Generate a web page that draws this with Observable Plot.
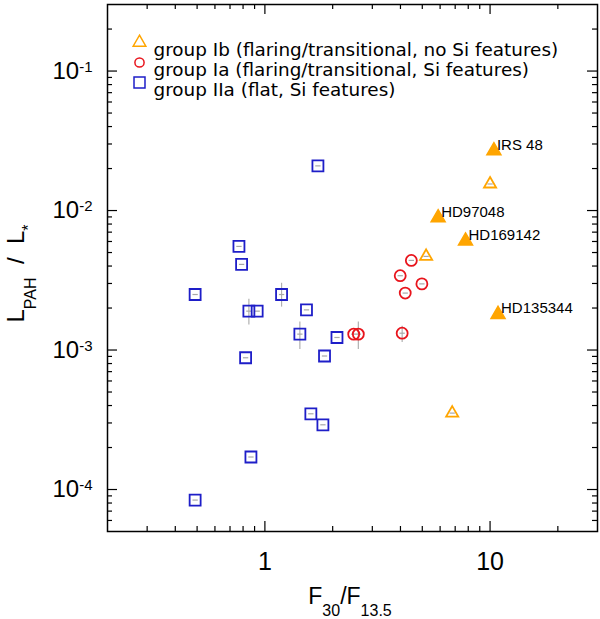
<!DOCTYPE html>
<html>
<head>
<meta charset="utf-8">
<script src="https://cdn.jsdelivr.net/npm/d3@7"></script>
<script src="https://cdn.jsdelivr.net/npm/@observablehq/plot@0.6"></script>
<style>
  body { margin: 0; background: #fff; }
</style>
</head>
<body>
<div id="chart"></div>
<script>
// group Ib, named sources (filled triangles)
const ibNames = ["IRS 48", "HD97048", "HD169142", "HD135344"]
const ibNamedX = [10.4, 5.88, 7.78, 10.85]
const ibNamedY = [0.0268, 0.00887, 0.00604, 0.0018]

// group Ib, other sources (open triangles)
const ibX = [10.0, 5.2, 6.79]
const ibY = [0.0155, 0.00469, 0.000353]

// group Ia (open circles)
const iaX = [2.48, 2.60, 4.47, 3.99, 4.98, 4.2, 4.07]
const iaY = [0.0013, 0.0013, 0.00439, 0.00341, 0.00298, 0.00256, 0.00132]

// group IIa (open squares)
const iiaX = [1.72, 0.767, 0.788, 0.49, 1.186, 0.849, 0.924, 1.53, 1.43, 2.09, 0.821, 1.84, 1.60, 1.81, 0.867, 0.49]
const iiaY = [0.0209, 0.00553, 0.00411, 0.0025, 0.0025, 0.0019, 0.0019, 0.00194, 0.0013, 0.00123, 0.00088, 0.000906, 0.000349, 0.000291, 0.000171, 0.000084]

// visible vertical error bars
const errX = [1.186, 0.849, 1.43, 2.60, 4.07]
const errLo = [0.00203, 0.00151, 0.00101, 0.00101, 0.00113]
const errHi = [0.00301, 0.00231, 0.00159, 0.00159, 0.00148]

const legendLabels = [
  "group Ib (flaring/transitional, no Si features)",
  "group Ia (flaring/transitional, Si features)",
  "group IIa (flat, Si features)"
]

const xMajor = [1, 10]
const xMinor = [0.3, 0.4, 0.5, 0.6, 0.7, 0.8, 0.9, 2, 3, 4, 5, 6, 7, 8, 9, 20]
const yMajor = [1e-4, 1e-3, 1e-2, 1e-1]
const yMinor = [6e-5, 7e-5, 8e-5, 9e-5,
  2e-4, 3e-4, 4e-4, 5e-4, 6e-4, 7e-4, 8e-4, 9e-4,
  2e-3, 3e-3, 4e-3, 5e-3, 6e-3, 7e-3, 8e-3, 9e-3,
  2e-2, 3e-2, 4e-2, 5e-2, 6e-2, 7e-2, 8e-2, 9e-2,
  2e-1]

const orange = "#FFA500", red = "#E8141C", blue = "#1E1EC8"
const font = "Liberation Sans, Arial, sans-serif"
const legendFont = "DejaVu Sans, sans-serif"

const W = 600, H = 619
const mTop = 4, mRight = 3, mBottom = 88, mLeft = 107
const frameW = W - mLeft - mRight, frameH = H - mTop - mBottom

const pts = (xs, ys) => xs.map((x, i) => ({x, y: ys[i]}))
const named = ibNames.map((name, i) => ({name, x: ibNamedX[i], y: ibNamedY[i]}))
const ib = pts(ibX, ibY)
const ia = pts(iaX, iaY)
const iia = pts(iiaX, iiaY)
const errs = errX.map((x, i) => ({x, lo: errLo[i], hi: errHi[i]}))
const all = [...named, ...ib, ...ia, ...iia]

// little horizontal dash drawn inside each marker (tiny x error)
const dash = {
  draw(ctx, size) {
    const w = Math.sqrt(size) / 2
    ctx.moveTo(-w, 0)
    ctx.lineTo(w, 0)
  }
}

const tickStyle = {stroke: "black", strokeWidth: 1.2}
const xTicks = (vals, len) => [
  Plot.tickX(vals, {x: d => d, insetTop: frameH - len, ...tickStyle}),
  Plot.tickX(vals, {x: d => d, insetBottom: frameH - len, ...tickStyle})
]
const yTicks = (vals, len) => [
  Plot.tickY(vals, {y: d => d, insetRight: frameW - len, ...tickStyle}),
  Plot.tickY(vals, {y: d => d, insetLeft: frameW - len, ...tickStyle})
]

const legendSym = [
  {symbol: "triangle", stroke: orange, r: 4.7},
  {symbol: "circle", stroke: red, r: 4.6},
  {symbol: "square", stroke: blue, r: 6.2}
]
const legendMarks = legendLabels.flatMap((label, i) => [
  Plot.dot([label], {frameAnchor: "top-left", dx: 32, dy: 38 + i * 20,
    symbol: legendSym[i].symbol, r: legendSym[i].r, stroke: legendSym[i].stroke, strokeWidth: 1.5}),
  Plot.text([label], {frameAnchor: "top-left", dx: 46, dy: 38 + i * 20, text: d => d,
    textAnchor: "start", fontSize: 18.4, fontFamily: legendFont, fill: "black"})
])

let chart = Plot.plot({
  width: W,
  height: H,
  marginTop: mTop,
  marginRight: mRight,
  marginBottom: mBottom,
  marginLeft: mLeft,
  x: {type: "log", domain: [0.2, 30], label: null},
  y: {type: "log", domain: [5e-5, 0.3], label: null},
  style: {background: "#ffffff", color: "black", fontFamily: font},
  marks: [
    Plot.ruleX(errs, {x: "x", y1: "lo", y2: "hi", stroke: "#b0b0b0", strokeWidth: 1.2}),
    Plot.dot(all, {x: "x", y: "y", symbol: dash, r: 3, stroke: "#a8a8a8", strokeWidth: 1.2}),
    Plot.dot(iia, {x: "x", y: "y", symbol: "square", r: 6.2, stroke: blue, strokeWidth: 1.8}),
    Plot.dot(ia, {x: "x", y: "y", symbol: "circle", r: 5.5, stroke: red, strokeWidth: 1.8}),
    Plot.dot(ib, {x: "x", y: "y", symbol: "triangle", r: 4.5, stroke: orange, strokeWidth: 1.8}),
    Plot.dot(named, {x: "x", y: "y", symbol: "triangle", r: 5.2, fill: orange, stroke: orange}),
    Plot.text(named, {x: "x", y: "y", text: "name", textAnchor: "start", dx: 3, dy: -6,
      fontSize: 15, fill: "black"}),
    ...xTicks(xMajor, 10),
    ...xTicks(xMinor, 5),
    ...yTicks(yMajor, 10),
    ...yTicks(yMinor, 5),
    Plot.axisX({ticks: xMajor, tickSize: 0, tickPadding: 21, fontSize: 25, tickFormat: d => String(d)}),
    Plot.axisY({ticks: yMajor, tickSize: 0, tickPadding: 15, fontSize: 24,
      tickFormat: d => "10^" + Math.round(Math.log10(d))}),
    ...legendMarks,
    Plot.frame({stroke: "black", strokeWidth: 1.5})
  ]
})

const svg = d3.select(chart)

// superscript exponents on the y tick labels
svg.selectAll('g[aria-label="y-axis tick label"] text').each(function () {
  const t = d3.select(this)
  const [base, exp] = t.text().split("^")
  t.text(null)
  t.append("tspan").text(base)
  t.append("tspan").attr("dy", "-0.45em").attr("font-size", 15).text(exp)
})

// axis titles with subscripts
const xt = svg.append("text")
  .attr("x", (mLeft + W - mRight) / 2 - 2).attr("y", 604)
  .attr("text-anchor", "middle").attr("font-size", 23).attr("font-family", font)
xt.append("tspan").text("F")
xt.append("tspan").attr("font-size", 16).attr("dy", 12).text("30")
xt.append("tspan").attr("dy", -12).text("/F")
xt.append("tspan").attr("font-size", 16).attr("dy", 12).text("13.5")

const yt = svg.append("text")
  .attr("transform", `translate(24,${(mTop + H - mBottom) / 2 + 6}) rotate(-90)`)
  .attr("text-anchor", "middle").attr("font-size", 24).attr("font-family", font)
yt.append("tspan").text("L")
yt.append("tspan").attr("font-size", 16).attr("dy", 12).text("PAH")
yt.append("tspan").attr("dy", -12).text("  /  L")
yt.append("tspan").attr("font-size", 16).attr("dy", 10).text("*")

d3.select("#chart").append(() => chart)
</script>
</body>
</html>
